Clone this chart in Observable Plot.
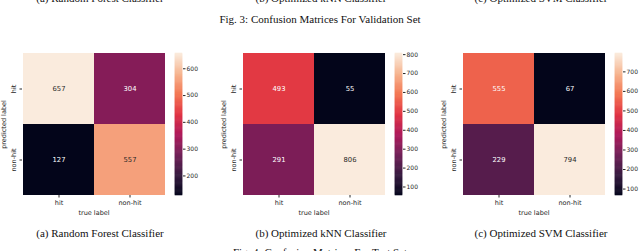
<!DOCTYPE html>
<html>
<head>
<meta charset="utf-8">
<script src="https://cdn.jsdelivr.net/npm/d3@7"></script>
<script src="https://cdn.jsdelivr.net/npm/@observablehq/plot@0.6"></script>
<style>
  html, body { margin: 0; padding: 0; background: #fff; }
  #fig { position: relative; width: 640px; height: 251px; overflow: hidden; background: #fff; }
  .cap { position: absolute; font-family: "Liberation Serif", "DejaVu Serif", serif; font-size: 11px; line-height: 11px; white-space: nowrap; color: #111; transform: translateX(-50%); }
  .pl { position: absolute; top: 0; }
</style>
</head>
<body>
<div id="fig"></div>
<script>
// ---- data ----
const trueLabels = ["hit", "non-hit"];
const predictedLabels = ["hit", "non-hit"];
// rows = predicted label, columns = true label
const rfValues  = [[657, 304], [127, 557]];
const knnValues = [[493, 55], [291, 806]];
const svmValues = [[555, 67], [229, 794]];
const rfTicks  = [200, 300, 400, 500, 600];
const knnTicks = [100, 200, 300, 400, 500, 600, 700, 800];
const svmTicks = [100, 200, 300, 400, 500, 600, 700];
const topCaptions = ["(a) Random Forest Classifier", "(b) Optimized kNN Classifier", "(c) Optimized SVM Classifier"];
const bottomCaptions = ["(a) Random Forest Classifier", "(b) Optimized kNN Classifier", "(c) Optimized SVM Classifier"];
const figTitles = ["Fig. 3: Confusion Matrices For Validation Set", "Fig. 4: Confusion Matrices For Test Set"];
const xTitle = "true label";
const yTitle = "predicted label";

// seaborn "rocket" colormap stops
const rocket = ["#03051a", "#35193e", "#701f57", "#ad1759", "#e13342", "#f37651", "#f6b48f", "#faebdd"];
const interp = d3.piecewise(d3.interpolateRgb, rocket);

const fig = document.getElementById("fig");
const FONT = "DejaVu Sans";
const TOP = 53, BOTTOM = 25, H = 220;

function lum(c) {
  const {r, g, b} = d3.rgb(c);
  const f = v => { v /= 255; return v <= 0.03928 ? v / 12.92 : Math.pow((v + 0.055) / 1.055, 2.4); };
  return 0.2126 * f(r) + 0.7152 * f(g) + 0.0722 * f(b);
}

function panel(values, ticks, offset) {
  const rows = [];
  predictedLabels.forEach((p, i) => trueLabels.forEach((t, j) => rows.push({p, t, v: values[i][j]})));
  const ext = d3.extent(rows, d => d.v);
  const color = {type: "linear", domain: ext, interpolate: interp};
  const textColor = d => lum(interp((d.v - ext[0]) / (ext[1] - ext[0]))) > 0.408 ? "#262626" : "#ffffff";

  const heat = Plot.plot({
    width: 170, height: H,
    marginLeft: 22, marginRight: 5, marginTop: TOP, marginBottom: BOTTOM,
    style: {fontFamily: FONT, fontSize: "6.5px", background: "transparent", overflow: "visible", color: "#262626"},
    x: {domain: trueLabels, padding: 0, label: null},
    y: {domain: predictedLabels, padding: 0, label: null},
    color,
    marks: [
      Plot.cell(rows, {x: "t", y: "p", fill: "v", inset: 0}),
      Plot.text(rows, {x: "t", y: "p", text: d => String(d.v), fill: textColor, fontSize: 6.8}),
      Plot.axisX({tickSize: 2.5, tickPadding: 2, fontSize: 6.5, label: null, stroke: "#262626"}),
      Plot.axisY({tickSize: 2.5, tickFormat: () => "", label: null, stroke: "#262626"}),
      Plot.text(predictedLabels, {y: d => d, text: d => d, frameAnchor: "left", textAnchor: "middle", lineAnchor: "middle", dx: -9, rotate: -90, fontSize: 6.5, fill: "#262626"}),
      Plot.text([yTitle], {frameAnchor: "left", textAnchor: "middle", lineAnchor: "middle", dx: -18.5, rotate: -90, fontSize: 6.5, fill: "#262626"}),
      Plot.text([xTitle], {frameAnchor: "bottom", textAnchor: "middle", lineAnchor: "middle", dy: 17.7, fontSize: 6.5, fill: "#262626"})
    ]
  });
  heat.classList.add("pl");
  heat.style.left = offset + "px";
  fig.appendChild(heat);

  const n = 160;
  const step = (ext[1] - ext[0]) / n;
  const slices = d3.range(n).map(i => ({a: ext[0] + i * step, b: ext[0] + (i + 1) * step, m: ext[0] + (i + 0.5) * step}));
  const bar = Plot.plot({
    width: 40, height: H,
    marginLeft: 3, marginRight: 30, marginTop: TOP, marginBottom: BOTTOM,
    style: {fontFamily: FONT, fontSize: "6px", background: "transparent", overflow: "visible", color: "#262626"},
    y: {domain: ext, label: null},
    color,
    marks: [
      Plot.rect(slices, {y1: "a", y2: "b", fill: "m", stroke: "m", strokeWidth: 0.6}),
      Plot.axisY({anchor: "right", ticks: ticks, tickSize: 2.5, tickPadding: 1.5, fontSize: 6, label: null, stroke: "#262626"})
    ]
  });
  bar.classList.add("pl");
  bar.style.left = (offset + 172) + "px";
  fig.appendChild(bar);
}

panel(rfValues, rfTicks, 0);
panel(knnValues, knnTicks, 220);
panel(svmValues, svmTicks, 440);

function cap(text, x, top) {
  const d = document.createElement("div");
  d.className = "cap";
  d.textContent = text;
  d.style.left = x + "px";
  d.style.top = top + "px";
  fig.appendChild(d);
}
const centers = [100, 321, 541];
topCaptions.forEach((t, i) => cap(t, centers[i], -6.7));
cap(figTitles[0], 320, 13.8);
bottomCaptions.forEach((t, i) => cap(t, centers[i], 228));
cap(figTitles[1], 320, 247);
</script>
</body>
</html>
